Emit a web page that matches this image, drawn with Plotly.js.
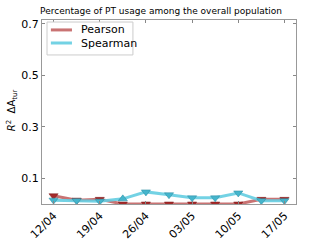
<!DOCTYPE html>
<html><head><meta charset="utf-8">
<script src="https://cdn.plot.ly/plotly-3.0.1.min.js"></script>
<style>html,body{margin:0;padding:0;background:#fff}#c{width:322px;height:241px}</style>
</head><body><div id="c"></div>
<script>
const idx = [0,1,2,3,4,5,6,7,8,9,10];
const tickPos = [0,2,4,6,8,10];
const tickLabels = ['12/04','19/04','26/04','03/05','10/05','17/05'];
const yTickVals = [0.1,0.3,0.5,0.7];
const yTickText = ['0.1','0.3','0.5','0.7'];
const seriesNames = ['Pearson','Spearman'];
const pearson = [0.032,0.015,0.018,0.0,0.0,0.0,0.0,0.0,0.0,0.018,0.018];
const spearman = [0.015,0.013,0.011,0.020,0.047,0.036,0.024,0.024,0.043,0.013,0.013];
const spearmanSym = ['triangle-down','triangle-down','triangle-down','triangle-up','triangle-down','triangle-down','triangle-down','triangle-down','triangle-down','triangle-down','triangle-down'];

const redLine = 'rgba(192,90,90,0.85)', redMark = '#a52a2a';
const cyLine = 'rgba(100,205,225,0.9)', cyMark = '#45b5cc';
const traces = [
  {x: idx, y: pearson, mode:'lines+markers', name:seriesNames[0], showlegend:false,
   line:{color:redLine, width:3}, marker:{symbol:'triangle-down', size:8, color:redMark, line:{width:0.5,color:'#7a1a1a'}}},
  {x: idx, y: spearman, mode:'lines+markers', name:seriesNames[1], showlegend:false,
   line:{color:cyLine, width:3}, marker:{symbol:spearmanSym, size:8, color:cyMark, line:{width:0.5,color:'#2a8aa0'}}}
];
const shapes = [
  {type:'rect', xref:'paper', yref:'paper', x0:0.0197, x1:0.358, y0:0.81, y1:0.989, line:{color:'#ccc', width:1}, fillcolor:'#fff', layer:'above'},
  {type:'line', xref:'paper', yref:'paper', x0:0.035, x1:0.118, y0:0.946, y1:0.946, line:{color:redLine, width:3}, layer:'above'},
  {type:'line', xref:'paper', yref:'paper', x0:0.035, x1:0.118, y0:0.875, y1:0.875, line:{color:cyLine, width:3}, layer:'above'}
];
const annotations = [
  {xref:'paper', yref:'paper', x:0.146, y:0.946, xanchor:'left', yanchor:'middle', text:seriesNames[0], showarrow:false, font:{size:11}},
  {xref:'paper', yref:'paper', x:0.146, y:0.875, xanchor:'left', yanchor:'middle', text:seriesNames[1], showarrow:false, font:{size:11}},
  {xref:'paper', yref:'paper', x:-0.118, y:0.51, xanchor:'center', yanchor:'middle', textangle:-90,
   bgcolor:'rgba(0,0,0,0)', borderpad:0,
   text:'<i>R</i><sup>2</sup>  ΔA<sub>tur</sub>', showarrow:false, font:{size:10}}
];
const layout = {
  width:322, height:241,
  margin:{l:42, r:26, t:20, b:37},
  paper_bgcolor:'#fff', plot_bgcolor:'#fff',
  font:{family:'DejaVu Sans', size:11, color:'#000'},
  showlegend:false,
  title:{text:'Percentage of PT usage among the overall population', font:{size:9}, x:0.5, xanchor:'center', y:0.955, yanchor:'middle'},
  xaxis:{range:[-0.5,10.5], tickvals:tickPos, ticktext:tickLabels, tickangle:-45,
    ticks:'inside', ticklen:3, tickcolor:'#888', showgrid:false, zeroline:false,
    showline:true, linecolor:'#999', linewidth:1, mirror:'ticks', tickfont:{size:11}},
  yaxis:{range:[0,0.715], tickmode:'array', tickvals:yTickVals, ticktext:yTickText,
    ticks:'inside', ticklen:3, tickcolor:'#888', showgrid:false, zeroline:false,
    showline:true, linecolor:'#999', linewidth:1, mirror:'ticks', tickfont:{size:11}},
  shapes: shapes,
  annotations: annotations
};
Plotly.newPlot('c', traces, layout, {staticPlot:true, displayModeBar:false});
</script></body></html>
